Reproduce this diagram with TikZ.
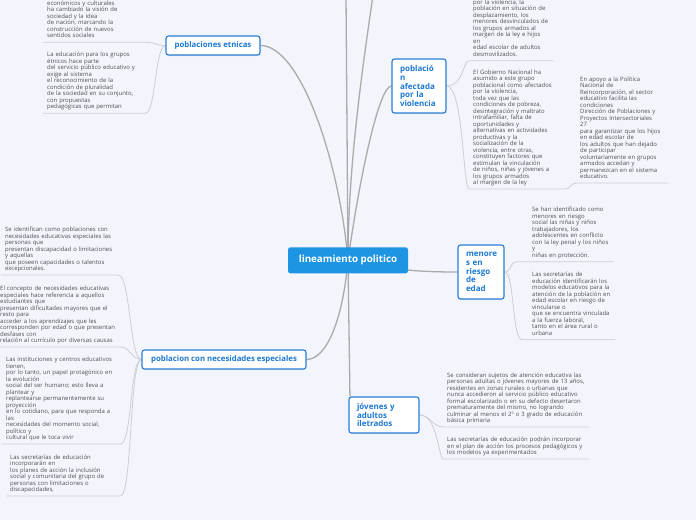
\documentclass[tikz,border=0pt]{standalone}
\usepackage{fontspec}
\setmainfont{Open Sans}
\usetikzlibrary{backgrounds,shadows}
\definecolor{paper}{HTML}{F2F5FC}
\definecolor{coreblue}{HTML}{1D95E3}
\definecolor{topicblue}{HTML}{2A7DD6}
\definecolor{topictext}{HTML}{1C78D3}
\definecolor{branchgray}{HTML}{ABABAB}
\definecolor{twiggray}{HTML}{CBCED6}
\definecolor{leaftext}{HTML}{4F4F4F}
\newcommand{\leafsize}{\fontsize{5.95}{6.5}\selectfont}

\begin{document}
\begin{tikzpicture}[x=1pt,y=1pt,core/.style={fill=coreblue,rounded corners=2.5pt,text=white,font=\fontsize{9.8}{11}\selectfont\bfseries,minimum width=120pt,minimum height=26pt,inner sep=0pt},topic/.style={draw=topicblue,line width=1.1pt,fill=white,rounded corners=2.5pt,text=topictext,font=\fontsize{7.8}{9}\selectfont\bfseries,minimum height=19pt,inner xsep=8pt,inner ysep=0pt,drop shadow={shadow xshift=0pt,shadow yshift=-1pt,opacity=.2}},tallbox/.style={topic,font=\fontsize{8}{8.7}\selectfont\bfseries,align=left},leaf/.style={font=\leafsize,text=leaftext,align=left,inner xsep=4pt,inner ysep=2.2pt,anchor=south west,execute at end node=\strut},branch/.style={draw=branchgray,line width=1.3pt},twig/.style={draw=twiggray,line width=.8pt}]
\useasboundingbox (0,0) rectangle (696,-520);
\node[core] (core) at (348,-260.3) {lineamiento politico};
\node[topic,minimum width=94pt] (etnicas) at (213,-45.5) {poblaciones etnicas};
\node[tallbox,minimum width=54pt,minimum height=54pt,text width=38pt] (afectada) at (419,-86) {població\\n\\afectada\\por la\\violencia};
\node[tallbox,minimum width=46pt,minimum height=54pt,text width=30pt] (menores) at (481,-272) {menore\\s en\\riesgo\\de\\edad};
\node[topic,minimum width=164pt] (necesidades) at (224,-359.5) {poblacion con necesidades especiales};
\node[tallbox,minimum width=70pt,minimum height=36pt,text width=54pt] (jovenes) at (384,-415) {jóvenes y\\adultos\\iletrados};
\coordinate (up1) at (346,5);
\coordinate (up2) at (373,5);
% hojas
\node[leaf,text width=94pt] (etn1) at (43,-42.3) {económicos y culturales\\ha cambiado la visión de\\sociedad y la idea\\de nación, marcando la\\construcción de nuevos\\sentidos sociales};
\node[leaf,text width=94pt] (etn2) at (43,-113.3) {La educación para los grupos\\étnicos hace parte\\del servicio público educativo y\\exige al sistema\\el reconocimiento de la\\condición de pluralidad\\de la sociedad en su conjunto,\\con propuestas\\pedagógicas que permitan};
\node[leaf,text width=76pt] (viol1) at (469,-60.7) {por la violencia, la\\población en situación de\\desplazamiento, los\\menores desvinculados de\\los grupos armados al\\margen de la ley e hijos\\en\\edad escolar de adultos\\desmovilizados.};
\node[leaf,text width=88pt] (viol2) at (469,-189) {El Gobierno Nacional ha\\asumido a este grupo\\poblacional como afectados\\por la violencia,\\toda vez que las\\condiciones de pobreza,\\desintegración y maltrato\\intrafamiliar, falta de\\oportunidades y\\alternativas en actividades\\productivas y la\\socialización de la\\violencia, entre otras,\\constituyen factores que\\estimulan la vinculación\\de niños, niñas y jóvenes a\\los grupos armados\\al margen de la ley};
\node[leaf,text width=84pt] (viol3) at (576,-183) {En apoyo a la Política\\Nacional de\\Reincorporación, el sector\\educativo facilita las\\condiciones\\Dirección de Poblaciones y\\Proyectos Intersectoriales\\27\\para garantizar que los hijos\\en edad escolar de\\los adultos que han dejado\\de participar\\voluntariamente en grupos\\armados accedan y\\permanezcan en el sistema\\educativo.};
\node[leaf,text width=77pt] (men1) at (528,-261.7) {Se han identificado como\\menores en riesgo\\social las niñas y niños\\trabajadores, los\\adolescentes en conflicto\\con la ley penal y los niños\\y\\niñas en protección.};
\node[leaf,text width=79pt] (men2) at (528,-339.7) {Las secretarías de\\educación identificarán los\\modelos educativos para la\\atención de la población en\\edad escolar en riesgo de\\vincularse o\\que se encuentra vinculada\\a la fuerza laboral,\\tanto en el área rural o\\urbana};
\node[leaf,text width=138pt] (jov1) at (443,-427) {Se consideran sujetos de atención educativa las\\personas adultas o jóvenes mayores de 13 años,\\residentes en zonas rurales o urbanas que\\nunca accedieron al servicio público educativo\\formal escolarizado o en su defecto desertaron\\prematuramente del mismo, no logrando\\culminar al menos el 2º o 3 grado de educación\\básica primaria};
\node[leaf,text width=138pt] (jov2) at (443,-459) {Las secretarías de educación podrán incorporar\\en el plan de acción los procesos pedagógicos y\\los modelos ya experimentados};
\node[leaf,text width=109pt] (nee1) at (1,-275) {Se identifican como poblaciones con\\necesidades educativas especiales las\\personas que\\presentan discapacidad o limitaciones\\y aquellas\\que poseen capacidades o talentos\\excepcionales.};
\node[leaf,text width=116pt] (nee2) at (-4,-347) {El concepto de necesidades educativas\\especiales hace referencia a aquellos\\estudiantes que\\presentan dificultades mayores que el\\resto para\\acceder a los aprendizajes que les\\corresponden por edad o que presentan\\desfases con\\relación al currículo por diversas causas};
\node[leaf,text width=110pt] (nee3) at (2,-444) {Las instituciones y centros educativos\\tienen,\\por lo tanto, un papel protagónico en\\la evolución\\social del ser humano; esto lleva a\\plantear y\\replantearse permanentemente su\\proyección\\en lo cotidiano, para que responda a\\las\\necesidades del momento social,\\político y\\cultural que le toca vivir};
\node[leaf,text width=106pt] (nee4) at (6,-496) {Las secretarías de educación\\incorporarán en\\los planes de acción la inclusión\\social y comunitaria del grupo de\\personas con limitaciones o\\discapacidades,};
\begin{scope}[on background layer]
\fill[paper] (0,0) rectangle (696,-520);
% ramas principales
\draw[branch] (core.center) -- (up1);
\draw[branch] (core.center) to[out=90,in=-98,out distance=100pt,in distance=60pt] (up2);
\draw[branch] (etnicas.east) to[out=0,in=95,out distance=40pt,in distance=100pt] (core.center);
\draw[branch] (afectada.west) to[out=180,in=82,out distance=12pt,in distance=90pt] (core.center);
\draw[branch] (core.center) to[out=-12,in=180] (menores.west);
\draw[branch] (core.center) to[out=-95,in=0,out distance=60pt,in distance=20pt] (necesidades.east);
\draw[branch] (core.center) -- ([xshift=1.5pt]jovenes.north west);
% ramitas
\draw[twig] (etnicas.west) to[out=180,in=0,distance=10.5pt] (etn1.south east) -- (etn1.south west);
\draw[twig] (etnicas.west) to[out=180,in=0,distance=10.5pt] (etn2.south east) -- (etn2.south west);
\draw[twig] (afectada.east) to[out=0,in=180,out distance=17pt,in distance=6pt] (viol1.south west) -- (viol1.south east);
\draw[twig] (afectada.east) to[out=0,in=180,out distance=17pt,in distance=6pt] (viol2.south west) -- (viol2.south east);
\draw[twig] (viol2.south east) to[out=0,in=180,distance=5pt] (viol3.south west) -- (viol3.south east);
\draw[twig] (menores.east) to[out=0,in=180,distance=8pt] ([xshift=-11pt]men1.south west) -- (men1.south east);
\draw[twig] (menores.east) to[out=0,in=180,distance=10pt] ([xshift=-6pt]men2.south west) -- (men2.south east);
\draw[twig] (jovenes.east) to[out=0,in=180,distance=10pt] (jov1.south west) -- (jov1.south east);
\draw[twig] (jovenes.east) to[out=0,in=180,out distance=18pt,in distance=4pt] (jov2.south west) -- (jov2.south east);
\draw[twig] (necesidades.west) to[out=180,in=0,distance=12pt] (nee1.south east) -- (nee1.south west);
\draw[twig] (necesidades.west) to[out=180,in=0,distance=10pt] (nee2.south east) -- (nee2.south west);
\draw[twig] (necesidades.west) to[out=180,in=0,distance=12pt] (nee3.south east) -- (nee3.south west);
\draw[twig] (necesidades.west) to[out=180,in=0,distance=12pt] (nee4.south east) -- (nee4.south west);
\end{scope}
\end{tikzpicture}
\end{document}
